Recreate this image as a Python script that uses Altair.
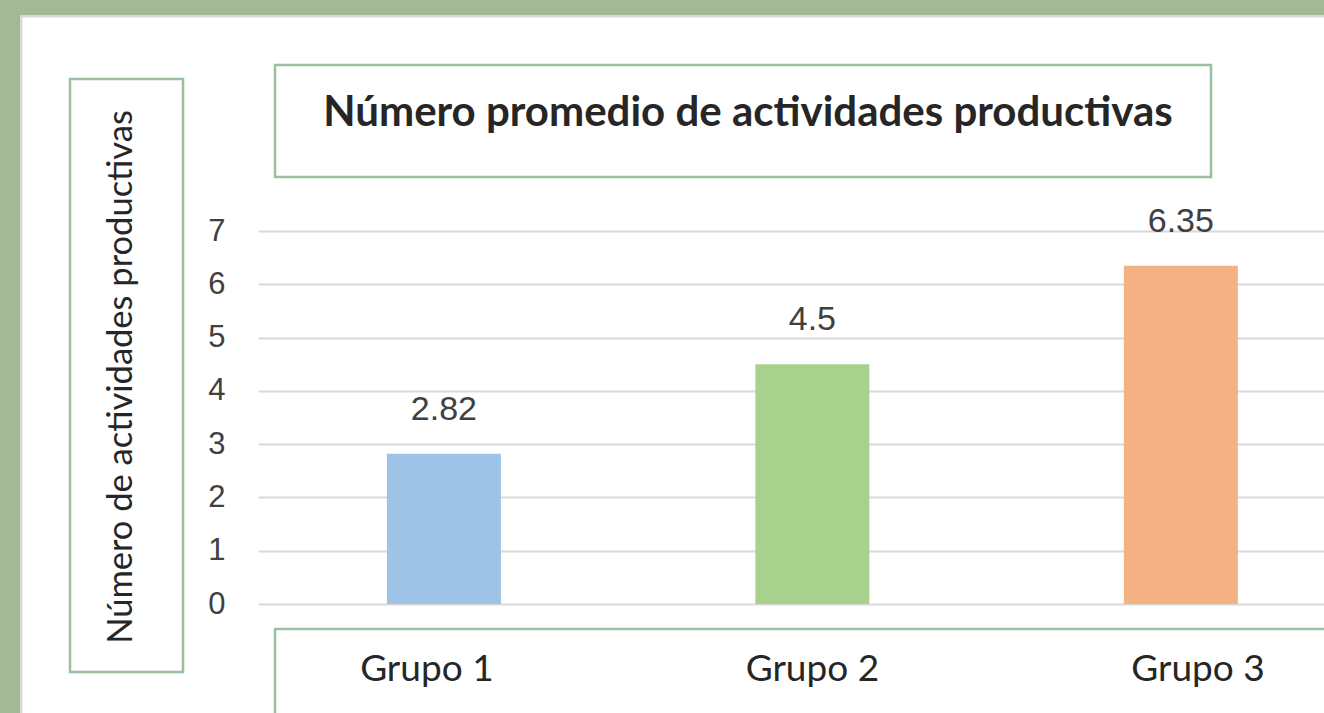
import altair as alt
import pandas as pd

grupos = ["Grupo 1", "Grupo 2", "Grupo 3"]
valores = [2.82, 4.5, 6.35]
etiquetas = ["2.82", "4.5", "6.35"]
colores = ["#9dc3e6", "#a9d18e", "#f4b183"]
y_ticks = [0, 1, 2, 3, 4, 5, 6, 7]

titulo = "Número promedio de actividades productivas"
titulo_y = "Número de actividades productivas"

df = pd.DataFrame({
    "grupo": grupos,
    "valor": valores,
    "etiqueta": etiquetas,
    "idx": list(range(len(grupos))),
})

GREEN_BG = "#a5b896"
BOX = "#99c0a1"

xs = alt.Scale(domain=[-0.491, 2.375], nice=False, zero=False)
xs_lab = alt.Scale(domain=[-0.438, 2.327], nice=False, zero=False)
ys = alt.Scale(domain=[0, 7], nice=False)

one = alt.Data(values=[{"a": 1}])

def box(x, x2, y, y2, fill="white", stroke=None, sw=0):
    kw = dict(fill=fill)
    if stroke:
        kw.update(stroke=stroke, strokeWidth=sw)
    return alt.Chart(one).mark_rect(**kw).encode(
        x=alt.value(x), x2=alt.value(x2), y=alt.value(y), y2=alt.value(y2)
    )

deco = [
    box(-260, 1100, -240, -216, fill=GREEN_BG),
    box(-260, -238, -240, 520, fill=GREEN_BG),
    box(-238, 1100, -216, -213.5, fill="#d9d9d9"),
    box(-238, -235.5, -216, 520, fill="#d9d9d9"),
    box(-188, -75, -152, 441, stroke=BOX, sw=2.5),
    box(17, 953, -166, -54, stroke=BOX, sw=2.5),
    box(17, 1100, 398, 900, stroke=BOX, sw=2.5),
]

bars = alt.Chart(df).mark_bar(size=114).encode(
    x=alt.X("idx:Q", scale=xs, axis=None),
    y=alt.Y("valor:Q", scale=ys, axis=alt.Axis(
        values=y_ticks, format="d", title=None, grid=True, gridColor="#d9d9d9", gridWidth=2,
        domain=False, ticks=False, labelPadding=33, labelFont="Liberation Sans",
        labelFontSize=31, labelColor="#404040")),
    color=alt.Color("grupo:N", scale=alt.Scale(domain=grupos, range=colores), legend=None),
)

labels = alt.Chart(df).mark_text(font="Liberation Sans", fontSize=34, color="#404040",
                                 baseline="middle", dy=-44).encode(
    x=alt.X("idx:Q", scale=xs), y=alt.Y("valor:Q", scale=ys), text="etiqueta:N"
)

main = alt.layer(bars, labels)

xlabels = alt.Chart(df).mark_text(font="Lato", fontSize=37, color="#262626",
                                  baseline="middle").encode(
    x=alt.X("idx:Q", scale=xs_lab, axis=None), y=alt.value(439), text="grupo:N"
)

title_t = alt.Chart(one).mark_text(font="Lato", fontWeight="bold", fontSize=42,
                                   color="#262626", baseline="middle").encode(
    x=alt.value(490), y=alt.value(-118), text=alt.value(titulo)
)

ytitle_t = alt.Chart(one).mark_text(font="Lato", fontSize=34.5, color="#262626",
                                    baseline="middle", angle=270).encode(
    x=alt.value(-136), y=alt.value(146), text=alt.value(titulo_y)
)

chart = alt.layer(*deco, main, xlabels, title_t, ytitle_t).resolve_scale(
    x="independent"
).properties(
    width=1066, height=373,
    background="white",
    padding={"left": 258, "top": 231, "right": 0, "bottom": 109},
    autosize=alt.AutoSizeParams(type="none"),
).configure_view(stroke=None)

chart.save("out.html", embed_options={"renderer": "svg", "actions": False})
